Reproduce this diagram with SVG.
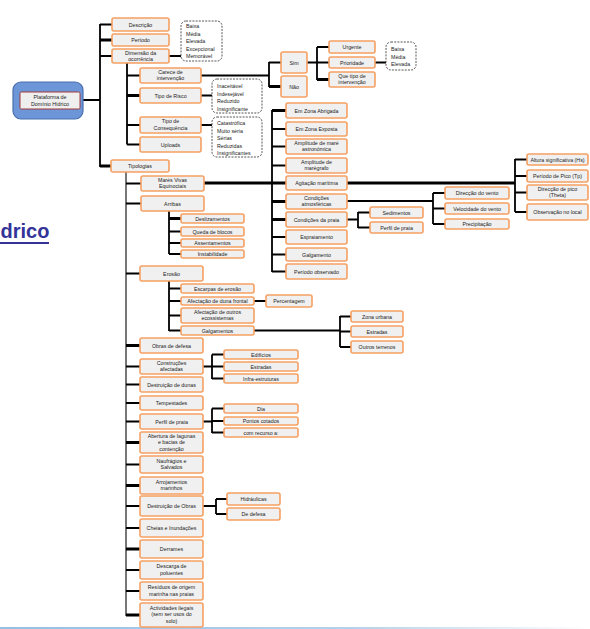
<svg xmlns="http://www.w3.org/2000/svg" width="590" height="629" viewBox="0 0 590 629">
<defs>
<linearGradient id="bl" x1="0" x2="1" y1="0" y2="0">
<stop offset="0" stop-color="#94bfe3"/>
<stop offset="0.6" stop-color="#b6d2ea"/>
<stop offset="1" stop-color="#ffffff"/>
</linearGradient>
</defs>
<style>
.b{fill:#f0f0f0;stroke:#f6a062;stroke-width:1.6}
.d{fill:#ffffff;stroke:#444;stroke-width:0.9;stroke-dasharray:2 1.2}
.t{font-family:"Liberation Sans",Arial,sans-serif;font-size:5.3px;fill:#222;text-anchor:middle}
.tl{font-family:"Liberation Sans",Arial,sans-serif;font-size:5.3px;fill:#222;text-anchor:start}
.c{stroke:#000;stroke-width:1.8;fill:none}
.ct{stroke:#000;stroke-width:3;fill:none}
.cg{stroke:#555;stroke-width:1.6;fill:none}
</style>
<rect x="0" y="0" width="590" height="629" fill="#ffffff"/>
<text x="0.5" y="238" font-family="Liberation Sans,Arial,sans-serif" font-size="20" font-weight="bold" fill="#333399" text-anchor="start">drico</text>
<rect x="0" y="242" width="49" height="2" fill="#333399"/>
<rect x="0" y="627" width="590" height="2" fill="url(#bl)"/>

<g id="connectors">
<path class="c" d="M80,100H100M100,24V167M100,24.5H112M100,56H112M127,63V144.5M127,75.5H140M127,95.5H140M127,125H140M127,144.5H140"/>
<path class="ct" d="M100,40H112M127,95.5H140M100,166H111"/>
<path class="c" d="M169,56H181M201,95.5H212M201,125H212M201,75.5H269M269,62V87M269,62.5H281M269,86.5H281M307,62.5H317M317,47V80M317,47H329M317,62.5H329M317,79.5H329M375,62.5H386"/>
<path class="ct" d="M269,86.5H281M317,79.5H329"/>
<path class="cg" d="M126,172V616"/>
<path class="c" d="M126,166H111M126,183.5H141M126,203.5H141M126,273.5H140M126,345.5H140M126,366.5H140M126,384.5H140M126,403H140M126,421.5H140M126,442.5H140M126,464.5H140M126,485.5H140M126,506H140M126,528H140M126,549H140M126,570H140M126,591H140M126,615H140"/>
<path class="ct" d="M126,345.5H140M126,442.5H140M126,485.5H140M126,549H140M126,615H140"/>
<path class="ct" d="M204,183H515"/>
<path class="c" d="M272,110V272M272,110.5H286M272,129H286M272,146.5H286M272,165.5H286M272,201.5H286M272,219.5H286M272,237H286M272,254.5H286M272,271.5H286"/>
<path class="ct" d="M272,110.5H286M272,201.5H286M272,219.5H286"/>
<path class="c" d="M515,159V212M515,159.5H527M515,176H527M515,192.5H527M515,212H527"/>
<path class="c" d="M347,201H433M433,193V224M433,193H445M433,208.5H445M433,224H445"/>
<path class="c" d="M347,219.5H358M358,212V228M358,212.5H370M358,227.5H370"/>
<path class="c" d="M169,211V254M169,218.5H181M169,231.5H181M169,243H181M169,254H181"/>
<path class="ct" d="M169,218.5H181"/>
<path class="c" d="M169,281V331M169,288.5H181M169,301H181M169,315.5H181M169,330.5H181M254,301H266"/>
<path class="c" d="M254,330.5H340M340,316V347M340,316.5H351M340,331.5H351M340,347H351"/>
<path class="c" d="M203,366.5H212M212,354.5V379M212,354.5H224M212,366.5H224M212,378.5H224"/>
<path class="c" d="M203,421.5H212M212,408.5V433M212,408.5H224M212,421H224M212,432.5H224"/>
<path class="c" d="M203,506H216M216,499V514M216,499H227M216,514H227"/>
</g>

<g id="root">
<rect x="13" y="82" width="70" height="37" rx="8" fill="#6c96d7" stroke="#4a6fae" stroke-width="1.2"/>
<rect x="20" y="92" width="60" height="17" rx="1.5" fill="#efefef" stroke="#a33a3a" stroke-width="1"/>
<text class="t" x="50" y="99" font-size="5">Plataforma de</text>
<text class="t" x="50" y="106" font-size="5">Domínio Hídrico</text>
</g>

<g id="descricao"><rect class="b" x="112" y="18" width="57" height="13" rx="2"/><text class="t" x="140.5" y="26.5">Descrição</text></g>
<g id="periodo"><rect class="b" x="112" y="34" width="57" height="12" rx="2"/><text class="t" x="140.5" y="42">Período</text></g>
<g id="dimensao"><rect class="b" x="112" y="49" width="57" height="14" rx="2"/><text class="t" x="140.5" y="54.5">Dimensão da</text><text class="t" x="140.5" y="61">ocorrência</text></g>
<g id="tipologias"><rect class="b" x="111" y="160" width="58" height="12" rx="2"/><text class="t" x="140" y="168">Tipologias</text></g>

<g id="dim-escala"><rect class="d" x="181" y="21" width="41" height="40" rx="5"/>
<text class="tl" x="186" y="28">Baixa</text><text class="tl" x="186" y="35.5">Média</text><text class="tl" x="186" y="43">Elevada</text><text class="tl" x="186" y="50.5">Excepcional</text><text class="tl" x="186" y="58">Memorável</text></g>

<g id="carece"><rect class="b" x="140" y="68" width="61" height="15" rx="2"/><text class="t" x="170.5" y="73.5">Carece de</text><text class="t" x="170.5" y="80">intervenção</text></g>
<g id="risco"><rect class="b" x="140" y="88" width="61" height="15" rx="2"/><text class="t" x="170.5" y="97.5">Tipo de Risco</text></g>
<g id="consequencia"><rect class="b" x="140" y="117" width="61" height="16" rx="2"/><text class="t" x="170.5" y="123">Tipo de</text><text class="t" x="170.5" y="129.5">Consequência</text></g>
<g id="uploads"><rect class="b" x="140" y="137" width="61" height="15" rx="2"/><text class="t" x="170.5" y="146.5">Uploads</text></g>

<g id="risco-escala"><rect class="d" x="212" y="79" width="50" height="34" rx="5"/>
<text class="tl" x="217" y="88">Inaceitável</text><text class="tl" x="217" y="95.5">Indesejável</text><text class="tl" x="217" y="103">Reduzido</text><text class="tl" x="217" y="110.5">Insignificante</text></g>
<g id="cons-escala"><rect class="d" x="212" y="117" width="50" height="40" rx="5"/>
<text class="tl" x="217" y="125">Catastrófica</text><text class="tl" x="217" y="132.5">Muito séria</text><text class="tl" x="217" y="140">Sérias</text><text class="tl" x="217" y="147.5">Reduzidas</text><text class="tl" x="217" y="155">Insignificantes</text></g>

<g id="sim"><rect class="b" x="281" y="52" width="26" height="21" rx="2"/><text class="t" x="294" y="64.5">Sim</text></g>
<g id="nao"><rect class="b" x="281" y="76" width="26" height="21" rx="2"/><text class="t" x="294" y="88.5">Não</text></g>
<g id="urgente"><rect class="b" x="329" y="41" width="46" height="12" rx="2"/><text class="t" x="352" y="49">Urgente</text></g>
<g id="prioridade"><rect class="b" x="329" y="57" width="46" height="11" rx="2"/><text class="t" x="352" y="64.5">Prioridade</text></g>
<g id="quetipo"><rect class="b" x="329" y="72" width="46" height="15" rx="2"/><text class="t" x="352" y="77.5">Que tipo de</text><text class="t" x="352" y="84">intervenção</text></g>
<g id="prio-escala"><rect class="d" x="386" y="42" width="30" height="28" rx="5"/>
<text class="tl" x="391" y="51">Baixa</text><text class="tl" x="391" y="58.5">Média</text><text class="tl" x="391" y="66">Elevada</text></g>

<g id="mares"><rect class="b" x="141" y="176" width="63" height="15" rx="2"/><text class="t" x="172.5" y="181.5">Marés Vivas</text><text class="t" x="172.5" y="188">Equinociais</text></g>
<g id="arribas"><rect class="b" x="141" y="196" width="63" height="15" rx="2"/><text class="t" x="172.5" y="205.5">Arribas</text></g>
<g id="erosao"><rect class="b" x="140" y="266" width="63" height="15" rx="2"/><text class="t" x="171.5" y="275.5">Erosão</text></g>
<g id="obras"><rect class="b" x="140" y="338" width="63" height="15" rx="2"/><text class="t" x="171.5" y="347.5">Obras de defesa</text></g>
<g id="construcoes"><rect class="b" x="140" y="359" width="63" height="15" rx="2"/><text class="t" x="171.5" y="364.5">Construções</text><text class="t" x="171.5" y="371">afectadas</text></g>
<g id="dunas"><rect class="b" x="140" y="377" width="63" height="15" rx="2"/><text class="t" x="171.5" y="386.5">Destruição de dunas</text></g>
<g id="tempestades"><rect class="b" x="140" y="396" width="63" height="14" rx="2"/><text class="t" x="171.5" y="405">Tempestades</text></g>
<g id="perfil"><rect class="b" x="140" y="414" width="63" height="15" rx="2"/><text class="t" x="171.5" y="423.5">Perfil de praia</text></g>
<g id="abertura"><rect class="b" x="140" y="432" width="63" height="21" rx="2"/><text class="t" x="171.5" y="437.5">Abertura de lagunas</text><text class="t" x="171.5" y="444">e bacias de</text><text class="t" x="171.5" y="450.5">contenção</text></g>
<g id="naufragios"><rect class="b" x="140" y="456" width="63" height="17" rx="2"/><text class="t" x="171.5" y="462.5">Naufrágios e</text><text class="t" x="171.5" y="469">Salvados</text></g>
<g id="arrojamentos"><rect class="b" x="140" y="477" width="63" height="17" rx="2"/><text class="t" x="171.5" y="483.5">Arrojamentos</text><text class="t" x="171.5" y="490">marinhos</text></g>
<g id="destobras"><rect class="b" x="140" y="496" width="63" height="20" rx="2"/><text class="t" x="171.5" y="508">Destruição de Obras</text></g>
<g id="cheias"><rect class="b" x="140" y="519" width="63" height="18" rx="2"/><text class="t" x="171.5" y="530">Cheias e Inundações</text></g>
<g id="derrames"><rect class="b" x="140" y="540" width="63" height="18" rx="2"/><text class="t" x="171.5" y="551">Derrames</text></g>
<g id="descarga"><rect class="b" x="140" y="561" width="63" height="18" rx="2"/><text class="t" x="171.5" y="568">Descarga de</text><text class="t" x="171.5" y="574.5">poluentes</text></g>
<g id="residuos"><rect class="b" x="140" y="582" width="63" height="18" rx="2"/><text class="t" x="171.5" y="589">Resíduos de origem</text><text class="t" x="171.5" y="595.5">marinha nas praias</text></g>
<g id="actividades"><rect class="b" x="140" y="603" width="63" height="24" rx="2"/><text class="t" x="171.5" y="609.5">Actividades ilegais</text><text class="t" x="171.5" y="616">(sem ser usos do</text><text class="t" x="171.5" y="622.5">solo)</text></g>

<g id="abrigada"><rect class="b" x="286" y="103" width="61" height="15" rx="2"/><text class="t" x="316.5" y="112.5">Em Zona Abrigada</text></g>
<g id="exposta"><rect class="b" x="286" y="122" width="61" height="14" rx="2"/><text class="t" x="316.5" y="131">Em Zona Exposta</text></g>
<g id="ampmare"><rect class="b" x="286" y="139" width="61" height="15" rx="2"/><text class="t" x="316.5" y="144.5">Amplitude de maré</text><text class="t" x="316.5" y="151">astronómica</text></g>
<g id="ampmaregrafo"><rect class="b" x="286" y="158" width="61" height="15" rx="2"/><text class="t" x="316.5" y="163.5">Amplitude de</text><text class="t" x="316.5" y="170">marégrafo</text></g>
<g id="agitacao"><rect class="b" x="286" y="176" width="61" height="14" rx="2"/><text class="t" x="316.5" y="185">Agitação marítima</text></g>
<g id="condatm"><rect class="b" x="286" y="194" width="61" height="15" rx="2"/><text class="t" x="316.5" y="199.5">Condições</text><text class="t" x="316.5" y="206">atmosféricas</text></g>
<g id="condpraia"><rect class="b" x="286" y="212" width="61" height="15" rx="2"/><text class="t" x="316.5" y="221.5">Condições da praia</text></g>
<g id="espraiamento"><rect class="b" x="286" y="230" width="61" height="14" rx="2"/><text class="t" x="316.5" y="239">Espraiamento</text></g>
<g id="galgamento"><rect class="b" x="286" y="248" width="61" height="13" rx="2"/><text class="t" x="316.5" y="256.5">Galgamento</text></g>
<g id="periodoobs"><rect class="b" x="286" y="264" width="61" height="15" rx="2"/><text class="t" x="316.5" y="273.5">Período observado</text></g>

<g id="altura"><rect class="b" x="527" y="154" width="61" height="11" rx="2"/><text class="t" x="557.5" y="161.5">Altura significativa (Hs)</text></g>
<g id="periodopico"><rect class="b" x="527" y="170" width="61" height="12" rx="2"/><text class="t" x="557.5" y="178">Período de Pico (Tp)</text></g>
<g id="direccaopico"><rect class="b" x="527" y="185" width="61" height="15" rx="2"/><text class="t" x="557.5" y="190.5">Direcção de pico</text><text class="t" x="557.5" y="197">(Theta)</text></g>
<g id="observacao"><rect class="b" x="527" y="204" width="61" height="16" rx="2"/><text class="t" x="557.5" y="214">Observação no local</text></g>

<g id="dirvento"><rect class="b" x="445" y="187" width="64" height="12" rx="2"/><text class="t" x="477" y="195">Direcção do vento</text></g>
<g id="velvento"><rect class="b" x="445" y="203" width="64" height="11" rx="2"/><text class="t" x="477" y="210.5">Velocidade do vento</text></g>
<g id="precipitacao"><rect class="b" x="445" y="219" width="64" height="10" rx="2"/><text class="t" x="477" y="226">Precipitação</text></g>

<g id="sedimentos"><rect class="b" x="370" y="207" width="53" height="11" rx="2"/><text class="t" x="396.5" y="214.5">Sedimentos</text></g>
<g id="perfilpraia2"><rect class="b" x="370" y="222" width="53" height="11" rx="2"/><text class="t" x="396.5" y="229.5">Perfil de praia</text></g>

<g id="deslizamentos"><rect class="b" x="181" y="214" width="63" height="9" rx="2"/><text class="t" x="212.5" y="220.5">Deslizamentos</text></g>
<g id="queda"><rect class="b" x="181" y="227" width="63" height="9" rx="2"/><text class="t" x="212.5" y="233.5">Queda de blocos</text></g>
<g id="assentamentos"><rect class="b" x="181" y="239" width="63" height="8" rx="2"/><text class="t" x="212.5" y="245">Assentamentos</text></g>
<g id="instabilidade"><rect class="b" x="181" y="250" width="63" height="8" rx="2"/><text class="t" x="212.5" y="256">Instabilidade</text></g>

<g id="escarpas"><rect class="b" x="181" y="284" width="73" height="9" rx="2"/><text class="t" x="217.5" y="290.5">Escarpas de erosão</text></g>
<g id="afectduna"><rect class="b" x="181" y="297" width="73" height="8" rx="2"/><text class="t" x="217.5" y="303">Afectação de duna frontal</text></g>
<g id="afectoutros"><rect class="b" x="181" y="308" width="73" height="15" rx="2"/><text class="t" x="217.5" y="313.5">Afectação de outros</text><text class="t" x="217.5" y="320">ecossistemas</text></g>
<g id="galgamentos"><rect class="b" x="181" y="326" width="73" height="9" rx="2"/><text class="t" x="217.5" y="332.5">Galgamentos</text></g>
<g id="percentagem"><rect class="b" x="266" y="295" width="46" height="12" rx="2"/><text class="t" x="289" y="303">Percentagem</text></g>

<g id="zonaurbana"><rect class="b" x="351" y="311" width="52" height="11" rx="2"/><text class="t" x="377" y="318.5">Zona urbana</text></g>
<g id="estradas1"><rect class="b" x="351" y="326" width="52" height="11" rx="2"/><text class="t" x="377" y="333.5">Estradas</text></g>
<g id="outros"><rect class="b" x="351" y="341" width="52" height="12" rx="2"/><text class="t" x="377" y="349">Outros terrenos</text></g>

<g id="edificios"><rect class="b" x="224" y="350" width="74" height="9" rx="2"/><text class="t" x="261" y="356.5">Edifícios</text></g>
<g id="estradas2"><rect class="b" x="224" y="362" width="74" height="9" rx="2"/><text class="t" x="261" y="368.5">Estradas</text></g>
<g id="infra"><rect class="b" x="224" y="374" width="74" height="9" rx="2"/><text class="t" x="261" y="380.5">Infra-estruturas</text></g>

<g id="dia"><rect class="b" x="224" y="404" width="74" height="9" rx="2"/><text class="t" x="261" y="410.5">Dia</text></g>
<g id="pontos"><rect class="b" x="224" y="417" width="74" height="8" rx="2"/><text class="t" x="261" y="423">Pontos cotados</text></g>
<g id="recurso"><rect class="b" x="224" y="428" width="74" height="9" rx="2"/><text class="t" x="261" y="434.5">com recurso a:</text></g>

<g id="hidraulicas"><rect class="b" x="227" y="493" width="53" height="12" rx="2"/><text class="t" x="253.5" y="501">Hidráulicas</text></g>
<g id="dedefesa"><rect class="b" x="227" y="508" width="53" height="12" rx="2"/><text class="t" x="253.5" y="516">De defesa</text></g>
</svg>
